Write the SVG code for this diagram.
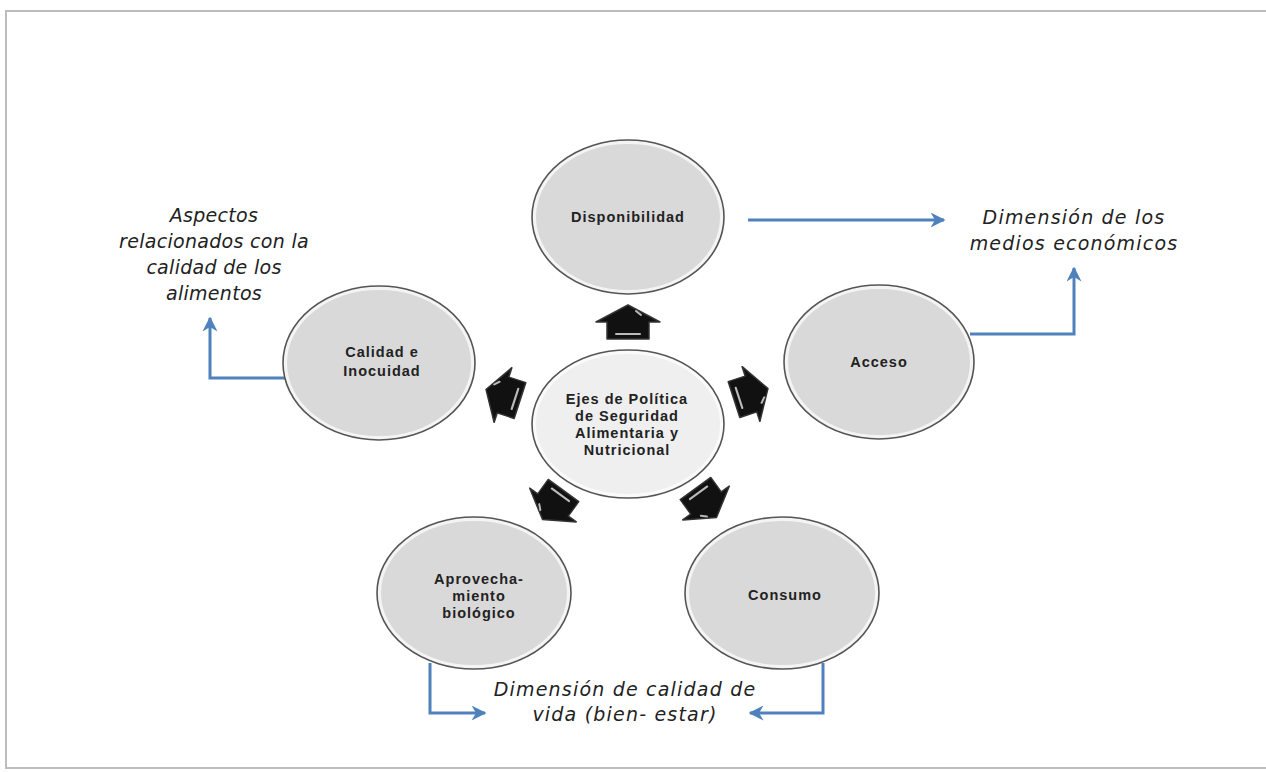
<svg xmlns="http://www.w3.org/2000/svg" width="1266" height="772" viewBox="0 0 1266 772">
<defs>
<style>
.frame{fill:#fff;stroke:#bdbdbd;stroke-width:2}
.outer{fill:none;stroke:#555;stroke-width:1.6}
.inner{fill:#d9d9d9;stroke:#f4f4f4;stroke-width:4}
.innerc{fill:#efefef;stroke:#fafafa;stroke-width:4}
.lbl{font-family:"Liberation Sans",Arial,sans-serif;font-weight:bold;font-size:14.5px;fill:#222;text-anchor:middle;letter-spacing:1px}
.note{font-family:"DejaVu Sans",sans-serif;font-style:italic;font-size:19px;fill:#222;text-anchor:middle;letter-spacing:0.3px}
.wide{letter-spacing:1.2px}
.conn{fill:none;stroke:#4f81bd;stroke-width:3}
.blk{fill:#111;stroke:#333;stroke-width:1.5;stroke-linejoin:round}
.hl{fill:none;stroke:#bbb;stroke-width:2;stroke-linecap:round}
</style>
<marker id="ah" viewBox="0 0 10 10" refX="9" refY="5" markerWidth="5" markerHeight="5" orient="auto" markerUnits="strokeWidth">
<path d="M0,0 L10,5 L0,10 L3,5 z" fill="#4f81bd"/>
</marker>
<g id="blockArrow">
<path class="blk" d="M0,-17 L32,0 L21,0 L21,17 L-21,17 L-21,0 L-32,0 z"/>
<path class="hl" d="M8,-11 L13,-7"/>
<path class="hl" d="M-12,12 L12,12"/>
</g>
</defs>
<rect x="0" y="0" width="1266" height="772" fill="#fff"/>
<rect class="frame" x="6" y="11" width="1280" height="757"/>

<g id="connectors">
<path class="conn" d="M748,220 L944,220" marker-end="url(#ah)"/>
<path class="conn" d="M970,334 L1074,334 L1074,268" marker-end="url(#ah)"/>
<path class="conn" d="M286,378 L210,378 L210,318" marker-end="url(#ah)"/>
<path class="conn" d="M430,663 L430,713 L485,713" marker-end="url(#ah)"/>
<path class="conn" d="M823,663 L823,713 L750,713" marker-end="url(#ah)"/>
</g>

<g id="block-arrows">
<use href="#blockArrow" transform="translate(628,322)"/>
<use href="#blockArrow" transform="translate(503,395) rotate(-72) scale(0.9,1.05)"/>
<use href="#blockArrow" transform="translate(751,394) rotate(72) scale(0.9,1.05)"/>
<use href="#blockArrow" transform="translate(553,505) rotate(-144) scale(0.9,1.05)"/>
<use href="#blockArrow" transform="translate(706,503) rotate(144) scale(0.9,1.05)"/>
</g>

<g id="node-disponibilidad">
<ellipse class="inner" cx="628" cy="217" rx="94" ry="75"/>
<ellipse class="outer" cx="628" cy="217" rx="96" ry="77"/>
<text class="lbl" x="628" y="222">Disponibilidad</text>
</g>

<g id="node-centro">
<ellipse class="innerc" cx="628" cy="424" rx="94" ry="72"/>
<ellipse class="outer" cx="628" cy="424" rx="96" ry="74"/>
<text class="lbl" x="627" y="404">Ejes de Política</text>
<text class="lbl" x="627" y="421">de Seguridad</text>
<text class="lbl" x="627" y="438">Alimentaria y</text>
<text class="lbl" x="627" y="455">Nutricional</text>
</g>

<g id="node-calidad">
<ellipse class="inner" cx="379" cy="363" rx="94" ry="75"/>
<ellipse class="outer" cx="379" cy="363" rx="96" ry="77"/>
<text class="lbl" x="382" y="357">Calidad e</text>
<text class="lbl" x="382" y="376">Inocuidad</text>
</g>

<g id="node-acceso">
<ellipse class="inner" cx="879" cy="362" rx="93" ry="75"/>
<ellipse class="outer" cx="879" cy="362" rx="95" ry="77"/>
<text class="lbl" x="879" y="367">Acceso</text>
</g>

<g id="node-aprovechamiento">
<ellipse class="inner" cx="474" cy="593" rx="95" ry="74"/>
<ellipse class="outer" cx="474" cy="593" rx="97" ry="76"/>
<text class="lbl" x="479" y="584">Aprovecha-</text>
<text class="lbl" x="479" y="601">miento</text>
<text class="lbl" x="479" y="618">biológico</text>
</g>

<g id="node-consumo">
<ellipse class="inner" cx="782" cy="593" rx="95" ry="74"/>
<ellipse class="outer" cx="782" cy="593" rx="97" ry="76"/>
<text class="lbl" x="785" y="600">Consumo</text>
</g>

<g id="notes">
<text class="note" x="214" y="222">Aspectos</text>
<text class="note" x="214" y="248">relacionados con la</text>
<text class="note" x="214" y="274">calidad de los</text>
<text class="note" x="214" y="300">alimentos</text>
<text class="note wide" x="1074" y="224">Dimensión de los</text>
<text class="note wide" x="1074" y="250">medios económicos</text>
<text class="note wide" x="625" y="696">Dimensión de calidad de</text>
<text class="note wide" x="625" y="721">vida (bien- estar)</text>
</g>
</svg>
